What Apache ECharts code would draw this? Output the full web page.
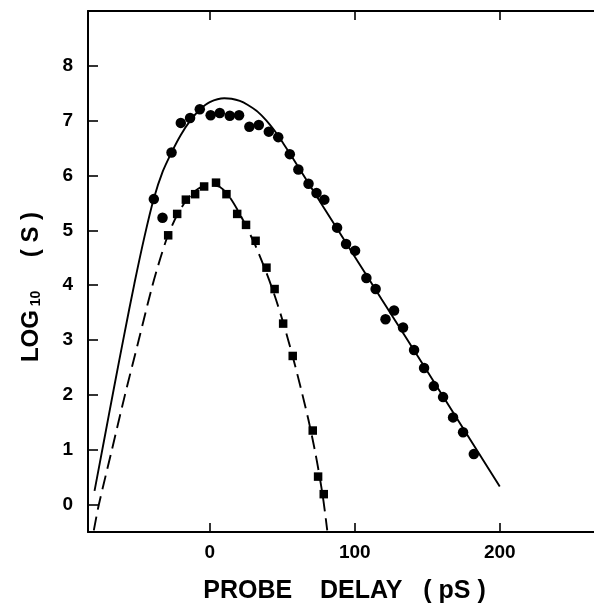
<!DOCTYPE html>
<html>
<head>
<meta charset="utf-8">
<script src="https://cdn.jsdelivr.net/npm/echarts@6/dist/echarts.min.js"></script>
<style>
html,body{margin:0;padding:0;background:#fff;}
#chart{width:594px;height:605px;}
</style>
</head>
<body>
<div id="chart"></div>
<script>
// ---- data ----
var circleX = [-38.6, -32.6, -26.4, -20.0, -13.6, -6.9, 0.6, 6.9, 13.8, 20.2, 27.3, 33.8, 40.7, 47.2, 55.2, 61.1, 68.1, 73.6, 79.0, 87.8, 94.0, 100.2, 108.0, 114.4, 121.2, 127.1, 133.3, 140.9, 147.8, 154.5, 160.9, 167.8, 174.7, 182.1];
var circleY = [5.57, 5.23, 6.42, 6.96, 7.05, 7.21, 7.10, 7.14, 7.09, 7.10, 6.89, 6.92, 6.80, 6.70, 6.39, 6.11, 5.85, 5.68, 5.56, 5.05, 4.75, 4.63, 4.13, 3.93, 3.38, 3.54, 3.23, 2.82, 2.49, 2.16, 1.96, 1.59, 1.32, 0.92];

var squareX = [-28.7, -22.5, -16.5, -10.1, -3.9, 4.3, 11.5, 18.9, 25.0, 31.6, 39.1, 44.7, 50.6, 57.2, 71.0, 74.7, 78.6];
var squareY = [4.91, 5.30, 5.56, 5.66, 5.80, 5.87, 5.66, 5.30, 5.10, 4.81, 4.32, 3.93, 3.30, 2.71, 1.35, 0.51, 0.19];

var solidFitX = [-79.5, -73, -66, -59, -52, -45, -38.6, -32.5, -26.4, -20, -13.5, -7, 0, 10, 15, 20.7, 26, 32.2, 37, 41.4, 46, 50.6, 55, 60, 66.7, 79, 100, 118.4, 150, 200];
var solidFitY = [0.25, 1.16, 2.14, 3.1, 4.03, 4.89, 5.58, 6.07, 6.42, 6.74, 7.0, 7.2, 7.34, 7.41, 7.40, 7.36, 7.29, 7.18, 7.06, 6.93, 6.77, 6.59, 6.41, 6.20, 5.92, 5.40, 4.52, 3.75, 2.43, 0.33];

var dashFitX = [-80, -76.5, -67.5, -58.5, -49, -40, -34, -28.7, -22.5, -16, -8, 0, 7, 13, 19, 25, 31.5, 38, 44.5, 50.6, 57, 63, 68, 72, 75.5, 78.5, 81];
var dashFitY = [-0.47, 0, 1.0, 2.0, 3.0, 3.95, 4.5, 4.92, 5.28, 5.55, 5.76, 5.84, 5.79, 5.63, 5.38, 5.08, 4.72, 4.30, 3.83, 3.32, 2.72, 2.10, 1.55, 1.05, 0.55, 0.05, -0.47];

var xTicks = [0, 100, 200];
var yTicks = [0, 1, 2, 3, 4, 5, 6, 7, 8];
var xTitle = 'PROBE    DELAY   ( pS )';

function pairs(xs, ys) { return xs.map(function (x, i) { return [x, ys[i]]; }); }

var FONT = '"Liberation Sans", Arial, Helvetica, sans-serif';
var chart = echarts.init(document.getElementById('chart'), null, {renderer: 'canvas'});

var axisLineStyle = {color: '#000', width: 2};
var tickStyle = {color: '#000', width: 1.6};

chart.setOption({
  animation: false,
  backgroundColor: '#fff',
  grid: {left: 88, right: 0, top: 11, bottom: 73, containLabel: false},
  xAxis: [{
    type: 'value', position: 'bottom', min: -84, max: 265,
    axisLine: {show: true, onZero: false, lineStyle: axisLineStyle},
    axisTick: {show: true, inside: true, length: 9, customValues: xTicks, lineStyle: tickStyle},
    axisLabel: {show: true, customValues: xTicks, margin: 11, color: '#000', fontSize: 19, fontWeight: 'bold', fontFamily: FONT},
    splitLine: {show: false}
  }, {
    type: 'value', position: 'top', min: -84, max: 265,
    axisLine: {show: true, onZero: false, lineStyle: axisLineStyle},
    axisTick: {show: true, inside: true, length: 9, customValues: xTicks, lineStyle: tickStyle},
    axisLabel: {show: false},
    splitLine: {show: false}
  }],
  yAxis: [{
    type: 'value', min: -0.5, max: 9,
    axisLine: {show: true, onZero: false, lineStyle: axisLineStyle},
    axisTick: {show: true, inside: true, length: 10, customValues: yTicks, lineStyle: tickStyle},
    axisLabel: {show: true, customValues: yTicks, margin: 15, color: '#000', fontSize: 19, fontWeight: 'bold', fontFamily: FONT},
    splitLine: {show: false}
  }],
  series: [{
    type: 'line', data: pairs(solidFitX, solidFitY), smooth: 0.3, showSymbol: false,
    lineStyle: {color: '#000', width: 1.9}, z: 2
  }, {
    type: 'line', data: pairs(dashFitX, dashFitY), smooth: 0.3, showSymbol: false,
    lineStyle: {color: '#000', width: 1.9, type: [14, 7]}, z: 2
  }, {
    type: 'scatter', data: pairs(circleX, circleY), symbol: 'circle', symbolSize: 10.5,
    itemStyle: {color: '#000', opacity: 1}, emphasis: {disabled: true}, z: 3
  }, {
    type: 'scatter', data: pairs(squareX, squareY), symbol: 'rect', symbolSize: 8.5,
    itemStyle: {color: '#000', opacity: 1}, emphasis: {disabled: true}, z: 3
  }],
  graphic: [{
    type: 'text', x: 344.5, y: 591,
    style: {text: xTitle, fill: '#000', font: 'bold 25px ' + FONT, textAlign: 'center', textVerticalAlign: 'middle'}
  }, {
    type: 'text', x: 30, y: 287, rotation: Math.PI / 2,
    style: {
      text: '{a|LOG}{s| 10}{a|     ( S )}',
      fill: '#000', textAlign: 'center', textVerticalAlign: 'middle',
      rich: {
        a: {fontSize: 24, fontWeight: 'bold', fontFamily: FONT, fill: '#000', lineHeight: 27, verticalAlign: 'bottom'},
        s: {fontSize: 14, fontWeight: 'bold', fontFamily: FONT, fill: '#000', lineHeight: 14, verticalAlign: 'bottom'}
      }
    }
  }]
});
</script>
</body>
</html>
